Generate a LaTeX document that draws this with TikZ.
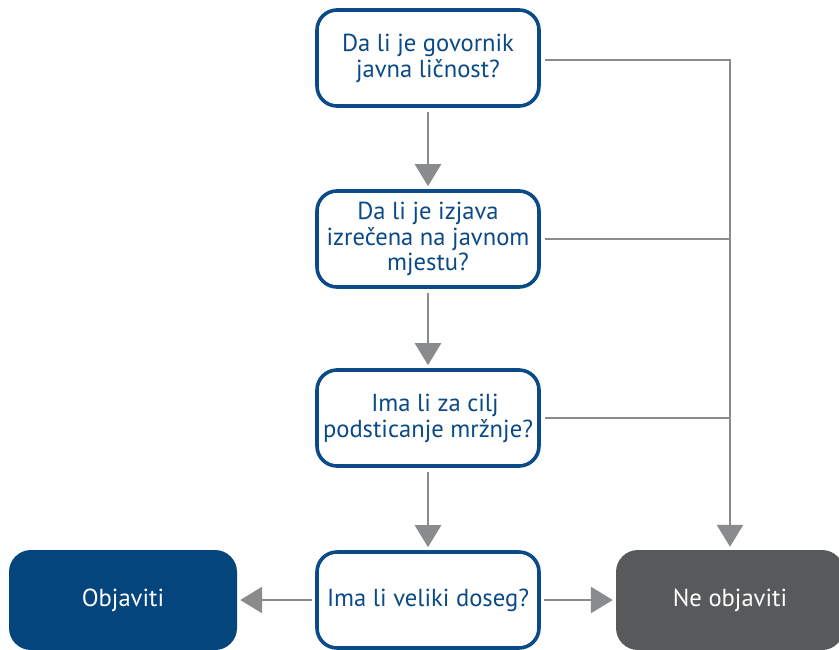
\documentclass[tikz,border=0pt]{standalone}
\usepackage{fontspec}
\setmainfont{PT Sans}
\usetikzlibrary{arrows.meta,positioning}
\definecolor{qblue}{HTML}{0A4A86}
\definecolor{fblue}{HTML}{03457C}
\definecolor{ngray}{HTML}{58595B}
\definecolor{lgray}{HTML}{8A8B8D}
\tikzset{
  qbox/.style={draw=qblue, line width=3.6pt, rounded corners=20pt, fill=white,
    minimum width=222pt, minimum height=96pt, align=center, text=qblue,
    font=\fontsize{24.6}{25.8}\selectfont, inner sep=0pt},
  endbox/.style={rounded corners=22pt, minimum width=228pt, minimum height=100pt,
    text=white, font=\fontsize{24.6}{25.8}\selectfont, inner sep=0pt},
  conn/.style={draw=lgray, line width=2.8pt},
  arr/.style={conn, -{Triangle[length=22pt,width=26pt]}}
}
\begin{document}
\begin{tikzpicture}[x=1pt,y=-1pt]
\useasboundingbox (0,0) rectangle (839,649);
\clip (0,0) rectangle (839,649);
\node[qbox] (q1) at (428,58) {Da li je govornik\\javna ličnost?};
\node[qbox] (q2) at (428,239) {Da li je izjava\\izrečena na javnom\\mjestu?};
\node[qbox] (q3) at (428,418) {\hspace*{14pt}Ima li za cilj\\podsticanje mržnje?};
\node[qbox] (q4) at (428,600) {Ima li veliki doseg?};
\node[endbox, fill=fblue] (yes) at (123,600) {Objaviti};
\node[endbox, fill=ngray] (no) at (730,600) {Ne objaviti};
\draw[arr, shorten <=4pt, shorten >=3pt] (q1.south) -- (q2.north);
\draw[arr, shorten <=4pt, shorten >=3pt] (q2.south) -- (q3.north);
\draw[arr, shorten <=4pt, shorten >=3pt] (q3.south) -- (q4.north);
\draw[arr, shorten <=3pt, shorten >=3pt] (q4.west) -- (yes.east);
\draw[arr, shorten <=3pt, shorten >=3pt] (q4.east) -- (no.west);
\draw[arr, shorten <=4pt, shorten >=3pt] ([yshift=-2pt]q1.east) -| (no.north);
\draw[conn, shorten <=4pt] (q2.east) -- (q2.east -| no.north);
\draw[conn, shorten <=4pt] (q3.east) -- (q3.east -| no.north);
\end{tikzpicture}
\end{document}
